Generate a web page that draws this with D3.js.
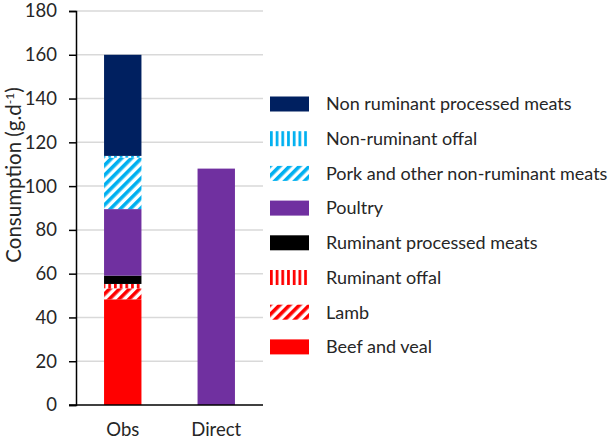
<!DOCTYPE html>
<html><head><meta charset="utf-8">
<script src="https://cdn.jsdelivr.net/npm/d3@7"></script>
<style>body{margin:0;background:#fff}svg{display:block}text{font-family:Lato,"Open Sans",sans-serif;fill:#262626}</style>
</head><body><svg id="c" width="608" height="445"></svg>
<script>
const categories = ["Obs", "Direct"];
const seriesNames = ["Beef and veal", "Lamb", "Ruminant offal", "Ruminant processed meats", "Poultry", "Pork and other non-ruminant meats", "Non-ruminant offal", "Non ruminant processed meats"];
const beef = [48.3, 0];
const lamb = [5.0, 0];
const ruminantOffal = [2.0, 0];
const ruminantProcessed = [3.8, 0];
const poultry = [30.4, 108];
const pork = [23.5, 0];
const nonRuminantOffal = [0.8, 0];
const nonRuminantProcessed = [46.2, 0];
const yTicks = [0, 20, 40, 60, 80, 100, 120, 140, 160, 180];
const yTitle = "Consumption (g.d";

const seriesValues = [beef, lamb, ruminantOffal, ruminantProcessed, poultry, pork, nonRuminantOffal, nonRuminantProcessed];
const fills = ["#FF0000", "url(#diagRed)", "url(#vertRed)", "#000000", "#7030A0", "url(#diagBlue)", "url(#vertBlue)", "#002060"];

const svg = d3.select("#c");
const defs = svg.append("defs");
function diag(id, color) {
  const p = defs.append("pattern").attr("id", id).attr("patternUnits", "userSpaceOnUse")
    .attr("width", 7).attr("height", 7).attr("patternTransform", "rotate(45)");
  p.append("rect").attr("width", 7).attr("height", 7).attr("fill", "#fff");
  p.append("rect").attr("width", 3.6).attr("height", 7).attr("fill", color);
}
function vert(id, color) {
  const p = defs.append("pattern").attr("id", id).attr("patternUnits", "userSpaceOnUse")
    .attr("width", 5.7).attr("height", 10);
  p.append("rect").attr("width", 5.7).attr("height", 10).attr("fill", "#fff");
  p.append("rect").attr("width", 2.7).attr("height", 10).attr("fill", color);
}
diag("diagRed", "#FF0000"); vert("vertRed", "#FF0000");
diag("diagBlue", "#00B0F0"); vert("vertBlue", "#00B0F0");

const x = d3.scaleBand().domain(categories).range([76, 263]).paddingInner(0.6).paddingOuter(0.3);
const y = d3.scaleLinear().domain([0, 180]).range([405, 11]);

// gridlines
svg.append("g").selectAll("line").data(yTicks.filter(d => d > 0)).join("line")
  .attr("x1", 76).attr("x2", 263).attr("y1", d => y(d)).attr("y2", d => y(d))
  .attr("stroke", "#d9d9d9").attr("stroke-width", 1.5);

// stacked data
const rows = categories.map((c, i) => {
  const o = { cat: c };
  seriesNames.forEach((s, k) => o[s] = seriesValues[k][i]);
  return o;
});
const stack = d3.stack().keys(seriesNames)(rows);
svg.append("g").selectAll("g").data(stack).join("g")
  .attr("fill", (d, i) => fills[i])
  .selectAll("rect").data(d => d.filter(e => e[1] - e[0] > 0)).join("rect")
  .attr("x", d => x(d.data.cat)).attr("width", x.bandwidth())
  .attr("y", d => y(d[1])).attr("height", d => y(d[0]) - y(d[1]));

// y axis
const ya = svg.append("g").attr("transform", "translate(76,0)")
  .call(d3.axisLeft(y).tickValues(yTicks).tickSize(7).tickPadding(12));
ya.select(".domain").attr("stroke", "#000").attr("stroke-width", 1.5);
ya.selectAll(".tick line").attr("stroke", "#000").attr("stroke-width", 1.5);
ya.selectAll("text").style("font-size", "18.5px").attr("fill", "#262626");

// x axis
const xa = svg.append("g").attr("transform", "translate(0,405)")
  .call(d3.axisBottom(x).tickSize(0).tickPadding(18));
xa.select(".domain").attr("d", "M69,0H263").attr("stroke", "#000").attr("stroke-width", 1.5);
xa.selectAll("text").style("font-size", "18.5px").attr("fill", "#262626");

// y title
const yt = svg.append("text").attr("transform", "translate(21,175) rotate(-90)")
  .attr("text-anchor", "middle").style("font-size", "20.5px");
yt.append("tspan").text(yTitle);
yt.append("tspan").attr("dy", -7).style("font-size", "12px").text("-1");
yt.append("tspan").attr("dy", 7).text(")");

// legend
const legendOrder = seriesNames.map((s, i) => i).reverse();
const lg = svg.append("g").selectAll("g").data(legendOrder).join("g")
  .attr("transform", (d, j) => `translate(270,${104 + j * 34.7})`);
lg.append("rect").attr("x", 0).attr("y", -7.5).attr("width", 39).attr("height", 15)
  .attr("fill", d => fills[d]);
lg.append("text").attr("x", 56).attr("dy", "0.35em").style("font-size", "18px")
  .text(d => seriesNames[d]);
</script></body></html>
